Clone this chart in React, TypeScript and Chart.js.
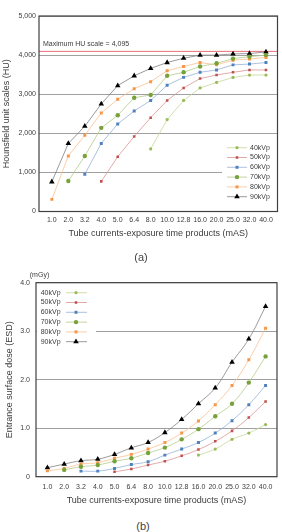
import React, { useEffect, useRef } from 'react';
import { Chart, registerables } from 'chart.js';

Chart.register(...registerables);

// Tube current–exposure time products (mAs)
const exposures = ['1.0', '2.0', '3.2', '4.0', '5.0', '6.4', '8.0', '10.0', '12.8', '16.0', '20.0', '25.0', '32.0', '40.0'];
const seriesNames = ['40kVp', '50kVp', '60kVp', '70kVp', '80kVp', '90kVp'];

// (a) Hounsfield unit scales
const hu40 = [null, null, null, null, null, null, 1600, 2350, 2840, 3160, 3300, 3430, 3490, 3490];
const hu50 = [null, null, null, 770, 1400, 1920, 2400, 2840, 3160, 3400, 3490, 3560, 3620, 3620];
const hu60 = [null, null, 950, 1740, 2240, 2570, 2840, 3230, 3430, 3560, 3620, 3750, 3770, 3810];
const hu70 = [null, 780, 1420, 2140, 2460, 2910, 2980, 3470, 3560, 3710, 3790, 3910, 3960, 4000];
const hu80 = [310, 1420, 1950, 2520, 2870, 3140, 3320, 3600, 3710, 3810, 3750, 3870, 3900, 3940];
const hu90 = [760, 1740, 2180, 2750, 3220, 3470, 3660, 3810, 3920, 4000, 4000, 4030, 4040, 4080];
const maxHU = 4095;

// (b) Entrance surface dose (mGy)
const esd40 = [null, null, null, null, null, null, null, null, null, 0.445, 0.57, 0.77, 0.9, 1.075];
const esd50 = [null, null, null, null, 0.1, 0.16, 0.24, 0.32, 0.43, 0.56, 0.73, 0.945, 1.22, 1.55];
const esd60 = [null, null, 0.115, 0.115, 0.17, 0.25, 0.31, 0.445, 0.57, 0.705, 0.9, 1.155, 1.485, 1.88];
const esd70 = [null, 0.14, 0.205, 0.24, 0.32, 0.38, 0.49, 0.6, 0.77, 0.98, 1.245, 1.505, 1.94, 2.48];
const esd80 = [0.12, 0.17, 0.26, 0.29, 0.38, 0.46, 0.57, 0.705, 0.9, 1.15, 1.485, 1.88, 2.41, 3.06];
const esd90 = [0.185, 0.26, 0.33, 0.36, 0.46, 0.595, 0.705, 0.91, 1.18, 1.505, 1.83, 2.36, 2.84, 3.51];

const FONT = 'Arial, "Liberation Sans", sans-serif';
const TEXT = '#3c3c3c';

type Shape = 'circle' | 'rect' | 'triangle';
const styles: { color: string; line: string; shape: Shape; r: number }[] = [
  { color: '#9bbb59', line: '#c4d79b', shape: 'circle', r: 1.6 },
  { color: '#c0504d', line: '#da9694', shape: 'rect', r: 1.8 },
  { color: '#4f81bd', line: '#95b3d7', shape: 'rect', r: 2.1 },
  { color: '#77a23a', line: '#b3cc8a', shape: 'circle', r: 2.2 },
  { color: '#f79646', line: '#fac090', shape: 'rect', r: 2.1 },
  { color: '#000000', line: '#808080', shape: 'triangle', r: 3.2 },
];

function marker(ctx: CanvasRenderingContext2D, shape: Shape, x: number, y: number, r: number, color: string) {
  ctx.fillStyle = color;
  ctx.beginPath();
  if (shape === 'circle') {
    ctx.arc(x, y, r, 0, Math.PI * 2);
  } else if (shape === 'rect') {
    const s = r * Math.SQRT2;
    ctx.rect(x - s / 2, y - s / 2, s, s);
  } else {
    ctx.moveTo(x, y - r);
    ctx.lineTo(x + r * 0.866, y + r * 0.5);
    ctx.lineTo(x - r * 0.866, y + r * 0.5);
    ctx.closePath();
  }
  ctx.fill();
}

type Legend = {
  box: [number, number, number, number];
  y0: number;
  dy: number;
  lx0: number;
  lx1: number;
  mx: number;
  tx: number;
};

type Spec = {
  width: number;
  height: number;
  series: (number | null)[][];
  tension: number;
  plotLeft: number;
  plotRight: number;
  plotTop: number;
  plotBottom: number;
  xMin: number;
  xMax: number;
  xTickPad: number;
  xTitlePad: number;
  yMin: number;
  yMax: number;
  yStep: number;
  yTickPad: number;
  yTitle: string;
  yTitlePad: number;
  yFormat: (v: number) => string;
  legend: Legend;
  extra?: (chart: Chart) => void;
};

function buildChart(canvas: HTMLCanvasElement, spec: Spec) {
  const datasets = spec.series.map((vals, i) => {
    const st = styles[i];
    return {
      label: seriesNames[i],
      data: vals
        .map((v, j) => ({ x: j, y: v }))
        .filter((p) => p.y !== null) as { x: number; y: number }[],
      borderColor: st.line,
      backgroundColor: st.color,
      borderWidth: 0.8,
      pointStyle: st.shape,
      pointRadius: st.r,
      pointHoverRadius: st.r,
      pointBackgroundColor: st.color,
      pointBorderColor: st.color,
      pointBorderWidth: 0,
      tension: spec.tension,
      fill: false,
    };
  });

  const overlay = {
    id: 'overlay',
    beforeDatasetsDraw(chart: Chart) {
      if (spec.extra) spec.extra(chart);
    },
    afterDatasetsDraw(chart: Chart) {
      const { ctx, chartArea } = chart;
      const lg = spec.legend;
      ctx.save();
      ctx.fillStyle = '#ffffff';
      ctx.fillRect(lg.box[0], lg.box[1], lg.box[2], lg.box[3]);
      seriesNames.forEach((name, i) => {
        const st = styles[i];
        const y = lg.y0 + i * lg.dy;
        ctx.strokeStyle = st.line;
        ctx.lineWidth = 0.8;
        ctx.beginPath();
        ctx.moveTo(lg.lx0, y);
        ctx.lineTo(lg.lx1, y);
        ctx.stroke();
        marker(ctx, st.shape, lg.mx, y, st.r, st.color);
        ctx.fillStyle = TEXT;
        ctx.font = `7px ${FONT}`;
        ctx.textAlign = 'left';
        ctx.textBaseline = 'middle';
        ctx.fillText(name, lg.tx, y);
      });
      // plot frame
      ctx.strokeStyle = '#404040';
      ctx.lineWidth = 1.2;
      ctx.strokeRect(chartArea.left, chartArea.top, chartArea.right - chartArea.left, chartArea.bottom - chartArea.top);
      ctx.restore();
    },
  };

  return new Chart(canvas, {
    type: 'line',
    data: { datasets },
    plugins: [overlay],
    options: {
      responsive: false,
      animation: false,
      events: [],
      layout: {
        padding: { left: 0, top: spec.plotTop, right: spec.width - spec.plotRight, bottom: 0 },
      },
      plugins: {
        legend: { display: false },
        tooltip: { enabled: false },
        title: { display: false },
      },
      scales: {
        x: {
          type: 'linear',
          min: spec.xMin,
          max: spec.xMax,
          afterFit: (s: any) => {
            s.height = spec.height - spec.plotBottom;
          },
          grid: { display: false, drawTicks: false },
          border: { display: false },
          ticks: {
            stepSize: 1,
            autoSkip: false,
            maxRotation: 0,
            minRotation: 0,
            includeBounds: false,
            padding: spec.xTickPad,
            color: TEXT,
            font: { size: 7, family: FONT },
            callback: (v: any) => (Number.isInteger(v) && exposures[v] !== undefined ? exposures[v] : ''),
          },
          title: {
            display: true,
            text: 'Tube currents-exposure time products (mAS)',
            color: TEXT,
            font: { size: 9, family: FONT },
            padding: { top: 0, bottom: spec.xTitlePad },
          },
        },
        y: {
          type: 'linear',
          min: spec.yMin,
          max: spec.yMax,
          afterFit: (s: any) => {
            s.width = spec.plotLeft;
          },
          grid: { color: '#a0a0a0', lineWidth: 1, drawTicks: false },
          border: { display: false },
          ticks: {
            stepSize: spec.yStep,
            padding: spec.yTickPad,
            color: TEXT,
            font: { size: 7, family: FONT },
            callback: (v: any) => spec.yFormat(Number(v)),
          },
          title: {
            display: true,
            text: spec.yTitle,
            color: TEXT,
            font: { size: 9, family: FONT },
            padding: { top: spec.yTitlePad, bottom: 0 },
          },
        },
      },
    } as any,
  });
}

const specA: Spec = {
  width: 282,
  height: 245,
  series: [hu40, hu50, hu60, hu70, hu80, hu90],
  tension: 0,
  plotLeft: 39,
  plotRight: 277.5,
  plotTop: 16,
  plotBottom: 211.5,
  xMin: -0.78,
  xMax: 13.7,
  xTickPad: 4.6,
  xTitlePad: 5.6,
  yMin: 0,
  yMax: 5000,
  yStep: 1000,
  yTickPad: 3,
  yTitle: 'Hounsfield unit scales (HU)',
  yTitlePad: 1.6,
  yFormat: (v) => v.toLocaleString('en-US'),
  legend: { box: [222, 141, 55, 63], y0: 147.7, dy: 9.8, lx0: 227, lx1: 247, mx: 237, tx: 250 },
  extra: (chart) => {
    const { ctx, chartArea, scales } = chart;
    const y = scales.y.getPixelForValue(maxHU);
    ctx.save();
    ctx.strokeStyle = '#ea6f78';
    ctx.lineWidth = 1;
    ctx.beginPath();
    ctx.moveTo(chartArea.left, y);
    ctx.lineTo(chartArea.right, y);
    ctx.stroke();
    ctx.fillStyle = TEXT;
    ctx.font = `7px ${FONT}`;
    ctx.textAlign = 'left';
    ctx.textBaseline = 'middle';
    ctx.fillText(`Maximum HU scale = ${maxHU.toLocaleString('en-US')}`, chartArea.left + 4, y - 7);
    ctx.restore();
  },
};

const specB: Spec = {
  width: 282,
  height: 246,
  series: [esd40, esd50, esd60, esd70, esd80, esd90],
  tension: 0.4,
  plotLeft: 36,
  plotRight: 277,
  plotTop: 20.7,
  plotBottom: 214.7,
  xMin: -0.68,
  xMax: 13.68,
  xTickPad: 5.8,
  xTitlePad: 1.6,
  yMin: 0,
  yMax: 4,
  yStep: 1,
  yTickPad: 6,
  yTitle: 'Entrance surface dose (ESD)',
  yTitlePad: 4.6,
  yFormat: (v) => (v === 0 ? '0' : v.toFixed(1)),
  legend: { box: [37, 23, 59, 62], y0: 30.7, dy: 9.8, lx0: 66, lx1: 87, mx: 76, tx: 40.7 },
  extra: (chart) => {
    const { ctx } = chart;
    ctx.save();
    ctx.fillStyle = TEXT;
    ctx.font = `7px ${FONT}`;
    ctx.textAlign = 'center';
    ctx.textBaseline = 'middle';
    ctx.fillText('(mGy)', 39.5, 13);
    ctx.restore();
  },
};

export default function App() {
  const refA = useRef<HTMLCanvasElement>(null);
  const refB = useRef<HTMLCanvasElement>(null);

  useEffect(() => {
    const a = buildChart(refA.current!, specA);
    const b = buildChart(refB.current!, specB);
    return () => {
      a.destroy();
      b.destroy();
    };
  }, []);

  const caption: React.CSSProperties = {
    position: 'absolute',
    left: 0,
    width: 282,
    textAlign: 'center',
    fontSize: 11,
    lineHeight: '13px',
    color: '#444',
    fontFamily: FONT,
  };

  return (
    <div style={{ position: 'absolute', left: 0, top: 0, width: 282, height: 532, background: '#fff' }}>
      <canvas
        ref={refA}
        width={282}
        height={245}
        style={{ position: 'absolute', left: 0, top: 0, width: 282, height: 245 }}
      />
      <canvas
        ref={refB}
        width={282}
        height={246}
        style={{ position: 'absolute', left: 0, top: 262, width: 282, height: 246 }}
      />
      <div style={{ ...caption, top: 251 }}>(a)</div>
      <div style={{ ...caption, top: 520, left: 2 }}>(b)</div>
    </div>
  );
}
